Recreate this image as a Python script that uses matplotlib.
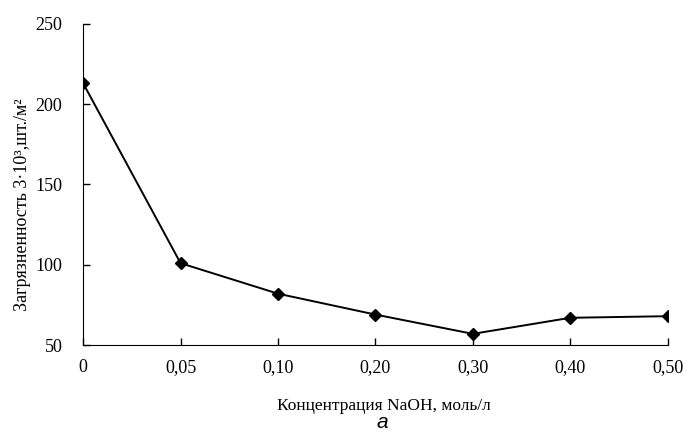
import numpy as np
import matplotlib
matplotlib.use('Agg')
import matplotlib.pyplot as plt

plt.rcParams['font.family'] = ['Liberation Serif', 'DejaVu Serif']

# концентрация NaOH (категории на оси X) и загрязненность
conc_labels = ['0', '0,05', '0,10', '0,20', '0,30', '0,40', '0,50']
dirt = [213, 101, 82, 69, 57, 67, 68]

fig = plt.figure(figsize=(6.87, 4.33), dpi=100)
ax = fig.add_axes([0.121, 0.203, 0.851, 0.742])

x = np.arange(len(conc_labels))
ax.plot(x, dirt, color='black', lw=1.4, marker='D', markersize=6.5)

ax.set_xlim(0, len(conc_labels) - 1)
ax.set_ylim(50, 250)
ax.set_xticks(x)
ax.set_xticklabels(conc_labels)
ax.set_yticks([50, 100, 150, 200, 250])

for s in ['top', 'right']:
    ax.spines[s].set_visible(False)
ax.tick_params(direction='in', length=5, width=1, labelsize=13, pad=10)
ax.tick_params(axis='y', pad=15)

ax.set_xlabel('Концентрация NaOH, моль/л', fontsize=12.5)
ax.xaxis.set_label_coords(0.515, -0.165)
ax.set_ylabel('Загрязненность 3·10³,шт./м²', fontsize=13)
ax.yaxis.set_label_coords(-0.09, 0.436)
fig.text(0.557, 0.012, 'a', fontsize=15, style='italic', family='Liberation Sans', ha='center')

plt.savefig('out.png', dpi=100)
